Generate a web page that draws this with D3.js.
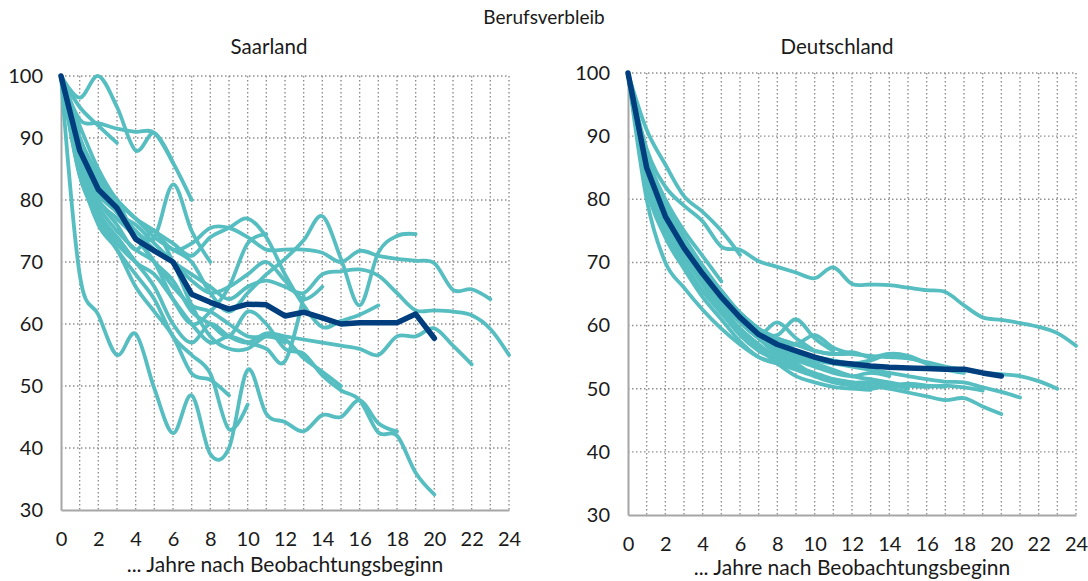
<!DOCTYPE html>
<html>
<head>
<meta charset="utf-8">
<script src="https://cdn.jsdelivr.net/npm/d3@7/dist/d3.min.js"></script>
<style>
body { margin: 0; background: #fff; }
text { font-family: Lato, "Noto Sans", sans-serif; fill: #1a1a1a; }
</style>
</head>
<body>
<svg width="1088" height="581"></svg>
<script>
var xTicks = [0, 2, 4, 6, 8, 10, 12, 14, 16, 18, 20, 22, 24];
var yTicks = [30, 40, 50, 60, 70, 80, 90, 100];

// Mittelwert (dunkelblau)
var saarlandMean = [100, 88, 81.7, 78.7, 73.7, 71.8, 70, 64.8, 63.5, 62.4, 63.2, 63.1, 61.3, 61.9, 61, 60, 60.2, 60.2, 60.2, 61.6, 57.7];
var deutschlandMean = [100, 85, 77.3, 72.3, 68.2, 64.5, 61.3, 58.6, 57, 56, 55, 54.2, 53.9, 53.6, 53.4, 53.3, 53.2, 53.1, 53.1, 52.5, 52];

// einzelne Kohorten (türkis), Wert je Jahr ab 0
var saarlandCohorts = [
  [100, 91],
  [100, 86, 81],
  [100, 95, 92, 89.2],
  [100, 84, 78, 73, 70],
  [100, 89, 83, 80, 74, 72],
  [100, 96.5, 100, 95, 88, 90.8, 86],
  [100, 93, 92.4, 91.5, 91, 90.8, 86, 80],
  [100, 90, 83, 79, 75, 74, 82.5, 75, 70],
  [100, 85, 76, 72, 66, 62, 58, 52, 51, 48.5],
  [100, 84, 77, 72, 68, 64, 58, 55, 52, 43, 47],
  [100, 88, 81, 78, 74, 70, 64, 60, 62, 66, 73, 74.5],
  [100, 87, 80, 76, 72, 75, 70, 63, 58, 56, 56, 58, 57],
  [100, 85, 78, 74, 70, 68, 64, 60, 57, 58, 57, 56, 54, 64.5],
  [100, 89, 83, 78, 76, 73, 70, 67, 65, 66, 68, 70, 67, 64, 66],
  [100, 86, 79, 75, 72, 70, 66, 63, 62, 60, 58, 58, 57.5, 54.5, 52.3, 50],
  [100, 90, 84, 80, 77, 75, 73, 71, 74, 75.5, 77, 74, 68, 63, 59.5, 60.5, 61.5, 63],
  [100, 68, 61.5, 55, 58.4, 49.6, 42.4, 48.5, 39, 40, 52.6, 45.5, 44.2, 42.7, 45.3, 45, 47.7, 44, 42.7],
  [100, 90, 84, 80, 77, 74, 72, 70, 65, 62, 65, 68, 70.5, 73.5, 77.4, 70.5, 63, 71.5, 74.2, 74.5],
  [100, 87, 80, 77, 74, 70, 67, 62, 60, 58, 62, 60, 56, 55.2, 51.7, 49.3, 47.7, 42.5, 42, 36, 32.5],
  [100, 85, 77, 74, 70, 66, 60, 57, 60, 58, 57, 58.5, 58, 57.5, 57, 56.5, 56, 55, 58, 58, 59.3, 56.5, 53.5],
  [100, 92, 85, 80, 77, 75, 72, 73, 75.5, 75.5, 74, 72, 72, 72, 71.5, 70, 71.8, 71, 70.5, 70.2, 69.8, 65.5, 65.6, 64],
  [100, 90, 83, 78, 75, 72, 70, 68, 66, 64, 66, 67, 66, 65, 68, 68.5, 68.8, 67.8, 65, 62.2, 62.2, 62, 61.4, 59.2, 55]
];

var deutschlandCohorts = [
  [100, 86],
  [100, 84, 77],
  [100, 83, 75, 70],
  [100, 86, 78, 73, 69],
  [100, 87, 80, 75, 71, 67],
  [100, 91, 85.5, 80.5, 78, 75, 71.2],
  [100, 84, 76.5, 71, 66.5, 62.5, 59.5, 57],
  [100, 82, 74, 69, 64.5, 61, 57.5, 55, 54],
  [100, 85, 78, 73, 68.5, 64.5, 61, 58, 56.5, 55.5],
  [100, 84, 77, 72, 67.5, 63.5, 60.5, 58.5, 60.5, 58, 56],
  [100, 85, 78, 73, 68.5, 64.5, 61.5, 59, 58.5, 61, 58, 56],
  [100, 86, 79, 74, 69.5, 65.5, 62, 59.5, 57.5, 57, 58.5, 56.5, 55.5],
  [100, 83, 75, 70, 65.5, 62, 59, 56.5, 54, 52, 51, 50.3, 50, 49.8],
  [100, 85, 77, 72, 67.5, 64, 61, 58, 55.5, 54.5, 53.5, 52.5, 52, 52.5, 52],
  [100, 84, 76, 71, 67, 63, 59.5, 57, 55, 54, 52, 51, 50.5, 50, 50.5, 50],
  [100, 86, 78, 73, 68, 64.5, 61, 58, 56.5, 55.5, 55, 54.5, 54, 54.5, 55.5, 55.2, 54],
  [100, 83, 75, 69.5, 65.5, 62, 58.5, 56, 54.5, 53.5, 52.5, 51.5, 51, 51, 50.5, 50.8, 50.5, 50.3],
  [100, 86, 78, 73, 69, 65.5, 62, 59.5, 58, 57, 56, 55.5, 55.8, 55, 55.5, 55, 54, 53, 52.5],
  [100, 85, 77, 72, 68, 64, 61, 58, 56, 55, 54, 53, 52, 51.5, 51, 50.5, 50.3, 50.5, 50.2, 49.7],
  [100, 80, 70, 66, 62.5, 59.5, 57, 55, 54, 53, 52, 51.5, 51, 50.5, 50, 49.4, 48.8, 48.2, 48.5, 47.2, 46],
  [100, 85, 77, 72, 67.5, 64, 60.5, 58, 56.5, 55.5, 54.5, 54, 53.5, 53, 52.5, 52, 51.5, 51.1, 51, 50.2, 49.5, 48.6],
  [100, 86, 78, 72.5, 68.5, 65, 62, 59.5, 58, 57, 56, 55.5, 55.5, 55.2, 55, 54.8, 54.2, 53.5, 53, 52.5, 52.3, 52, 51.2, 50],
  [100, 88, 82, 79, 76.5, 72.5, 72, 70.2, 69.3, 68.4, 67.5, 69.2, 66.6, 66.5, 66.4, 66, 65.6, 65.3, 63.2, 61.3, 60.9, 60.4, 59.8, 58.8, 56.8]
];

var teal = "#56bec1";
var navy = "#003e7e";
var gridColor = "#8f8f8f";
var axisColor = "#a6a6a6";

var svg = d3.select("svg");

svg.append("text")
  .attr("x", 544)
  .attr("y", 24)
  .attr("text-anchor", "middle")
  .style("font-size", "19px")
  .text("Berufsverbleib");

var panels = [
  {title: "Saarland", titleX: 269, cohorts: saarlandCohorts, mean: saarlandMean,
   left: 61, right: 509, top: 76, bottom: 510, labelY: 572},
  {title: "Deutschland", titleX: 837, cohorts: deutschlandCohorts, mean: deutschlandMean,
   left: 628, right: 1076, top: 73, bottom: 515, labelY: 575}
];

panels.forEach(function(p) {
  var x = d3.scaleLinear().domain([0, 24]).range([p.left, p.right]);
  var y = d3.scaleLinear().domain([30, 100]).range([p.bottom, p.top]);
  var g = svg.append("g");

  g.append("text")
    .attr("x", p.titleX)
    .attr("y", 54)
    .attr("text-anchor", "middle")
    .style("font-size", "20.5px")
    .text(p.title);

  // dotted grid
  g.selectAll(".vgrid")
    .data(d3.range(1, 25))
    .enter().append("line")
    .attr("x1", function(d) { return x(d); })
    .attr("x2", function(d) { return x(d); })
    .attr("y1", y(100))
    .attr("y2", y(30))
    .attr("stroke", gridColor)
    .attr("stroke-width", 1.4)
    .attr("stroke-dasharray", "1.5,2.5");

  g.selectAll(".hgrid")
    .data(yTicks.slice(1))
    .enter().append("line")
    .attr("x1", x(0))
    .attr("x2", x(24))
    .attr("y1", function(d) { return y(d); })
    .attr("y2", function(d) { return y(d); })
    .attr("stroke", gridColor)
    .attr("stroke-width", 1.4)
    .attr("stroke-dasharray", "1.5,2.5");

  var xAxis = g.append("g")
    .attr("transform", "translate(0," + p.bottom + ")")
    .call(d3.axisBottom(x).tickValues(xTicks).tickSize(0).tickPadding(22));
  var yAxis = g.append("g")
    .attr("transform", "translate(" + p.left + ",0)")
    .call(d3.axisLeft(y).tickValues(yTicks).tickSize(0).tickPadding(18));

  [xAxis, yAxis].forEach(function(a) {
    a.select(".domain").attr("stroke", axisColor).attr("stroke-width", 2);
    a.selectAll("text")
      .style("font-size", "20px")
      .style("font-family", "Lato, 'Noto Sans', sans-serif")
      .attr("fill", "#1a1a1a");
  });

  g.append("text")
    .attr("x", (p.left + p.right) / 2)
    .attr("y", p.labelY)
    .attr("text-anchor", "middle")
    .style("font-size", "21px")
    .text("... Jahre nach Beobachtungsbeginn");

  var smooth = d3.line()
    .x(function(d, i) { return x(i); })
    .y(function(d) { return y(d); })
    .curve(d3.curveCardinal.tension(0));

  var straight = d3.line()
    .x(function(d, i) { return x(i); })
    .y(function(d) { return y(d); });

  g.selectAll(".cohort")
    .data(p.cohorts)
    .enter().append("path")
    .attr("class", "cohort")
    .attr("d", smooth)
    .attr("fill", "none")
    .attr("stroke", teal)
    .attr("stroke-width", 3.8)
    .attr("stroke-linecap", "round")
    .attr("stroke-linejoin", "round");

  g.append("path")
    .datum(p.mean)
    .attr("d", straight)
    .attr("fill", "none")
    .attr("stroke", navy)
    .attr("stroke-width", 5.5)
    .attr("stroke-linecap", "round")
    .attr("stroke-linejoin", "round");
});
</script>
</body>
</html>
